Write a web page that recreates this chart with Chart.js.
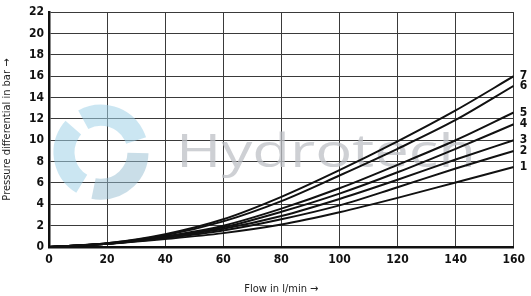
<!DOCTYPE html>
<html>
<head>
<meta charset="utf-8">
<script src="https://cdn.jsdelivr.net/npm/chart.js@4/dist/chart.umd.min.js"></script>
<style>
  html, body { margin: 0; padding: 0; background: #fff; }
  #wrap { width: 531px; height: 296px; position: relative; }
</style>
</head>
<body>
<div id="wrap"><canvas id="chart"></canvas></div>
<script>
// flow in l/min
var flow = [0, 20, 40, 60, 80, 100, 120, 140, 160];
// pressure differential in bar, one curve per size
var curve1 = [0, 0.3, 0.75, 1.3, 2.1, 3.25, 4.6, 6.05, 7.5];
var curve2 = [0, 0.3, 0.85, 1.55, 2.6, 3.9, 5.6, 7.35, 9.0];
var curve3 = [0, 0.3, 0.9, 1.7, 2.9, 4.5, 6.3, 8.2, 10.0];
var curve4 = [0, 0.3, 0.95, 1.85, 3.3, 5.0, 7.0, 9.2, 11.5];
var curve5 = [0, 0.3, 1.0, 2.0, 3.6, 5.5, 7.7, 10.0, 12.6];
var curve6 = [0, 0.35, 1.1, 2.4, 4.3, 6.7, 9.2, 11.9, 15.1];
var curve7 = [0, 0.35, 1.2, 2.6, 4.7, 7.2, 9.9, 12.8, 16.0];
var curveNames = ['1', '2', '3', '4', '5', '6', '7'];
var curves = [curve1, curve2, curve3, curve4, curve5, curve6, curve7];

var narrow = '"Liberation Sans Narrow", "DejaVu Sans Condensed", "Liberation Sans", sans-serif';

function toPoints(values) {
    return values.map(function (v, i) { return { x: flow[i], y: v }; });
}

var datasets = curves.map(function (c, i) {
    return {
        label: curveNames[i],
        data: toPoints(c),
        borderColor: '#111',
        borderWidth: 2,
        pointRadius: 0,
        fill: false,
        cubicInterpolationMode: 'monotone'
    };
});

// faint company watermark behind the curves
var watermark = {
    id: 'watermark',
    beforeDatasetsDraw: function (chart) {
        var ctx = chart.ctx, a = chart.chartArea;
        ctx.save();
        // swirl
        var cx = a.left + 52, cy = a.top + 140;
        ctx.lineWidth = 21;
        ctx.lineCap = 'butt';
        for (var k = 0; k < 3; k++) {
            var start = -Math.PI / 2 + k * 2 * Math.PI / 3 - 0.5;
            ctx.strokeStyle = k === 1 ? 'rgba(150,190,210,0.5)' : 'rgba(160,210,232,0.55)';
            ctx.beginPath();
            ctx.arc(cx, cy, 37, start, start + 1.75);
            ctx.stroke();
        }
        // name
        ctx.fillStyle = 'rgba(190,192,197,0.75)';
        ctx.font = '46px "Open Sans", sans-serif';
        ctx.textBaseline = 'alphabetic';
        var txt = 'Hydrotech';
        var w = ctx.measureText(txt).width;
        ctx.translate(a.left + 127, a.top + 155);
        ctx.scale(300 / w, 1);
        ctx.fillText(txt, 0, 0);
        ctx.restore();
    }
};

// numbers at the end of each curve
var endLabels = {
    id: 'endLabels',
    afterDatasetsDraw: function (chart) {
        var ctx = chart.ctx;
        ctx.save();
        ctx.fillStyle = '#111';
        ctx.font = 'bold 12px ' + narrow;
        ctx.textAlign = 'left';
        ctx.textBaseline = 'middle';
        chart.data.datasets.forEach(function (ds, i) {
            var pts = chart.getDatasetMeta(i).data;
            var p = pts[pts.length - 1];
            ctx.fillText(ds.label, p.x + 6, p.y);
        });
        ctx.restore();
    }
};

new Chart(document.getElementById('chart'), {
    type: 'line',
    data: { datasets: datasets },
    options: {
        responsive: true,
        maintainAspectRatio: false,
        animation: false,
        layout: { padding: { top: 7, right: 14, left: 0, bottom: 0 } },
        plugins: {
            legend: { display: false },
            tooltip: { enabled: false }
        },
        scales: {
            x: {
                type: 'linear',
                min: 0,
                max: 160,
                afterFit: function (s) { s.height = 49; },
                ticks: {
                    stepSize: 20,
                    color: '#111',
                    padding: 6,
                    maxRotation: 0,
                    font: { family: narrow, size: 12, weight: 'bold' }
                },
                grid: { color: '#3a3a3a', lineWidth: 1, drawTicks: false },
                border: { color: '#111', width: 2.5 },
                title: {
                    display: true,
                    text: 'Flow in l/min \u2192',
                    color: '#222',
                    padding: { top: 0, bottom: 0 },
                    font: { family: narrow, size: 11 }
                }
            },
            y: {
                min: 0,
                max: 22,
                afterFit: function (s) { s.width = 49; },
                ticks: {
                    stepSize: 2,
                    color: '#111',
                    padding: 5,
                    font: { family: narrow, size: 12, weight: 'bold' }
                },
                grid: { color: '#3a3a3a', lineWidth: 1, drawTicks: false },
                border: { color: '#111', width: 2.5 },
                title: {
                    display: true,
                    text: 'Pressure differential in bar \u2192',
                    color: '#222',
                    padding: { top: 1, bottom: 0 },
                    font: { family: narrow, size: 11 }
                }
            }
        }
    },
    plugins: [watermark, endLabels]
});
</script>
</body>
</html>
